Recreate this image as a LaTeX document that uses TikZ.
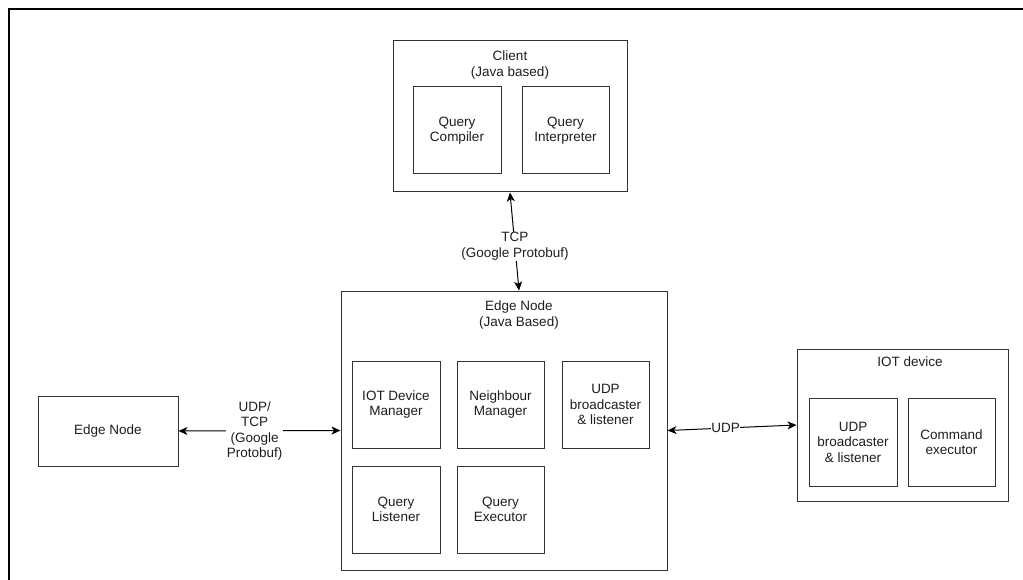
\documentclass[tikz,border=0pt]{standalone}
\usepackage{fontspec}
\setmainfont{Liberation Sans}
\usetikzlibrary{arrows.meta,positioning}
\definecolor{ink}{HTML}{333333}
\definecolor{txt}{HTML}{1E1E1E}
\tikzset{
  box/.style={draw=ink, line width=1pt, fill=white, align=center, text=txt,
    inner sep=0pt, font=\fontsize{13.5}{15.5}\selectfont},
  small/.style={box, minimum width=88pt, minimum height=87pt},
  title/.style={align=center, text=txt, inner sep=0pt, font=\fontsize{13.5}{15.5}\selectfont},
  tip/.style={Stealth[length=9pt,width=8pt,inset=2.5pt]},
  link/.style={draw=black, line width=1pt, {Stealth[length=9pt,width=8pt,inset=2.5pt]}-{Stealth[length=9pt,width=8pt,inset=2.5pt]}},
  tag/.style={fill=white, align=center, text=txt, inner sep=1pt, font=\fontsize{13.5}{15.5}\selectfont},
}
\begin{document}
\begin{tikzpicture}[x=1pt,y=-1pt]
\useasboundingbox (0,0) rectangle (1023,580);
\begin{scope}
  \clip (0,0) rectangle (1023,580);
  \draw[line width=2.5pt, black] (9,9) rectangle (1060,620);
\end{scope}

% client
\node[box, minimum width=234pt, minimum height=151pt] (client) at (510,116.5) {};
\node[title] (clientlbl) at (510,65) {Client\\(Java based)};
\node[small] (qc) at (457,130.5) {Query\\Compiler};
\node[small, minimum width=87pt] (qi) at (565.5,130.5) {Query\\Interpreter};

% central edge node
\node[box, minimum width=326pt, minimum height=279pt] (edge) at (504,430.5) {};
\node[title] (edgelbl) at (519,315) {Edge Node\\(Java Based)};
\node[small] (iotdm) at (396,404.5) {IOT Device\\Manager};
\node[small, minimum width=87pt] (nm) at (500.5,404.5) {Neighbour\\Manager};
\node[small, minimum width=87pt] (udpb) at (605.5,404.5) {UDP\\broadcaster\\\& listener};
\node[small] (ql) at (396,509.5) {Query\\Listener};
\node[small, minimum width=87pt] (qe) at (500.5,509.5) {Query\\Executor};

% neighbouring edge node
\node[box, minimum width=140pt, minimum height=70pt] (peer) at (108,431) {Edge Node};

% iot device
\node[box, minimum width=211pt, minimum height=152pt] (iot) at (902.5,425) {};
\node[title] (iotlbl) at (910,362) {IOT device};
\node[small, minimum height=88pt] (iotudp) at (853,442) {UDP\\broadcaster\\\& listener};
\node[small, minimum width=87pt, minimum height=88pt] (cmd) at (951.5,442) {Command\\executor};

% connectors
\draw[link] (client.south) -- node[tag, pos=0.55] {TCP\\(Google Protobuf)} ([xshift=15pt]edge.north);
\draw[link] (peer.east) -- node[tag, pos=0.47] {UDP/\\TCP\\(Google\\Protobuf)} (edge.west);
\draw[link] (edge.east) -- node[tag, pos=0.45, inner sep=0.5pt] {UDP} (iot.west);
\end{tikzpicture}
\end{document}
